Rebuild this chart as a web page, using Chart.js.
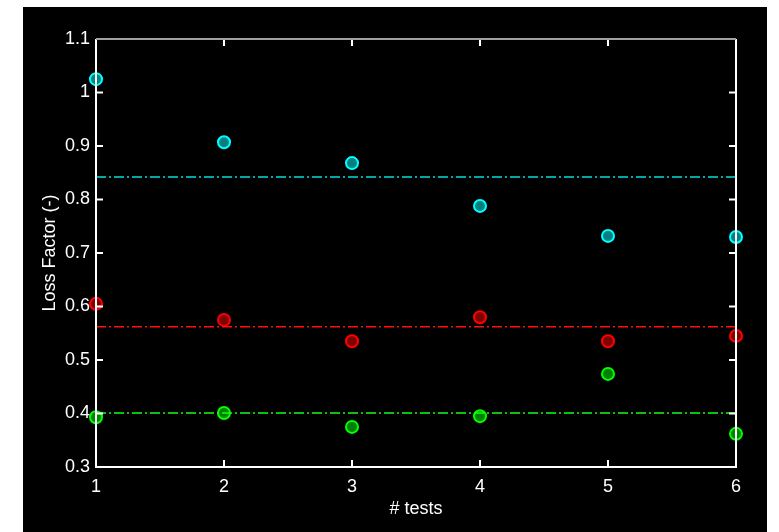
<!DOCTYPE html>
<html>
<head>
<meta charset="utf-8">
<script src="https://cdn.jsdelivr.net/npm/chart.js@4/dist/chart.umd.min.js"></script>
<style>
  html, body { margin: 0; padding: 0; background: #fff; }
  #wrap { position: absolute; left: 23px; top: 7px; width: 744px; height: 525px; background: #000; }
</style>
</head>
<body>
<div id="wrap"><canvas id="lossChart"></canvas></div>
<script>
// values
const tests = [1, 2, 3, 4, 5, 6];
const cyanLoss = [1.025, 0.907, 0.868, 0.788, 0.732, 0.730];
const redLoss = [0.605, 0.575, 0.535, 0.580, 0.535, 0.545];
const greenLoss = [0.393, 0.401, 0.375, 0.395, 0.474, 0.362];
const meanLevels = [0.842, 0.562, 0.401]; // cyan, red, green dash-dot lines
const yTicks = [0.3, 0.4, 0.5, 0.6, 0.7, 0.8, 0.9, 1.0, 1.1];

const FONT = { family: "'Liberation Sans', Arial, sans-serif", size: 18 };

function points(vals) {
    return tests.map((t, i) => ({ x: t, y: vals[i] }));
}
function meanLine(level) {
    return [{ x: tests[0], y: level }, { x: tests[tests.length - 1], y: level }];
}

// box + inward tick marks, drawn over the markers like the original
const boxPlugin = {
    id: 'box',
    afterDatasetsDraw(chart) {
        const { ctx, chartArea: a, scales } = chart;
        const len = 7;
        ctx.save();
        ctx.lineWidth = 2;
        ctx.strokeStyle = '#fff';
        scales.y.ticks.forEach(t => {
            const py = scales.y.getPixelForValue(t.value);
            ctx.beginPath();
            ctx.moveTo(a.left, py); ctx.lineTo(a.left + len, py);
            ctx.moveTo(a.right, py); ctx.lineTo(a.right - len, py);
            ctx.stroke();
        });
        scales.x.ticks.forEach(t => {
            const px = scales.x.getPixelForValue(t.value);
            ctx.beginPath();
            ctx.moveTo(px, a.bottom); ctx.lineTo(px, a.bottom - len);
            ctx.moveTo(px, a.top); ctx.lineTo(px, a.top + len);
            ctx.stroke();
        });
        ctx.beginPath();
        ctx.moveTo(a.left, a.top); ctx.lineTo(a.left, a.bottom); ctx.lineTo(a.right, a.bottom); ctx.lineTo(a.right, a.top);
        ctx.stroke();
        ctx.strokeStyle = '#a0a0a0';
        ctx.beginPath();
        ctx.moveTo(a.left, a.top); ctx.lineTo(a.right, a.top);
        ctx.stroke();
        ctx.restore();
    }
};

const scatterSet = (vals, edge, fill) => ({
    type: 'scatter',
    data: points(vals),
    pointRadius: 6,
    pointBorderWidth: 2,
    pointBorderColor: edge,
    pointBackgroundColor: fill,
    clip: false
});
const lineSet = (level, color) => ({
    type: 'line',
    data: meanLine(level),
    borderColor: color,
    borderWidth: 1.5,
    borderDash: [10, 3, 2, 3],
    pointRadius: 0,
    fill: false
});

document.addEventListener('DOMContentLoaded', function () {
    const ctx = document.getElementById('lossChart').getContext('2d');
    new Chart(ctx, {
        data: {
            datasets: [
                lineSet(meanLevels[0], '#00e0e0'),
                lineSet(meanLevels[1], '#ff1010'),
                lineSet(meanLevels[2], '#10ff10'),
                scatterSet(cyanLoss, '#00ffff', '#008080'),
                scatterSet(redLoss, '#ff0000', '#800000'),
                scatterSet(greenLoss, '#00ff00', '#008000')
            ]
        },
        options: {
            responsive: true,
            maintainAspectRatio: false,
            animation: false,
            layout: { padding: { top: 32, right: 31, left: 0, bottom: 0 } },
            plugins: { legend: { display: false }, tooltip: { enabled: false } },
            scales: {
                x: {
                    type: 'linear',
                    min: 1,
                    max: 6,
                    afterFit: s => { s.height = 65; },
                    grid: { display: false, drawTicks: false },
                    border: { display: false },
                    ticks: { stepSize: 1, color: '#fff', font: FONT, padding: 9 },
                    title: { display: true, text: '# tests', color: '#fff', font: FONT, padding: { top: 0, bottom: 12 } }
                },
                y: {
                    min: 0.3,
                    max: 1.1,
                    afterFit: s => { s.width = 73; },
                    afterBuildTicks: s => { s.ticks = yTicks.map(v => ({ value: v })); },
                    grid: { display: false, drawTicks: false },
                    border: { display: false },
                    ticks: {
                        color: '#fff',
                        font: FONT,
                        padding: 6,
                        callback: v => String(Number(v.toFixed(1)))
                    },
                    title: { display: true, text: 'Loss Factor (-)', color: '#fff', font: FONT, padding: { top: 16, bottom: 0 } }
                }
            }
        },
        plugins: [boxPlugin]
    });
});
</script>
</body>
</html>
